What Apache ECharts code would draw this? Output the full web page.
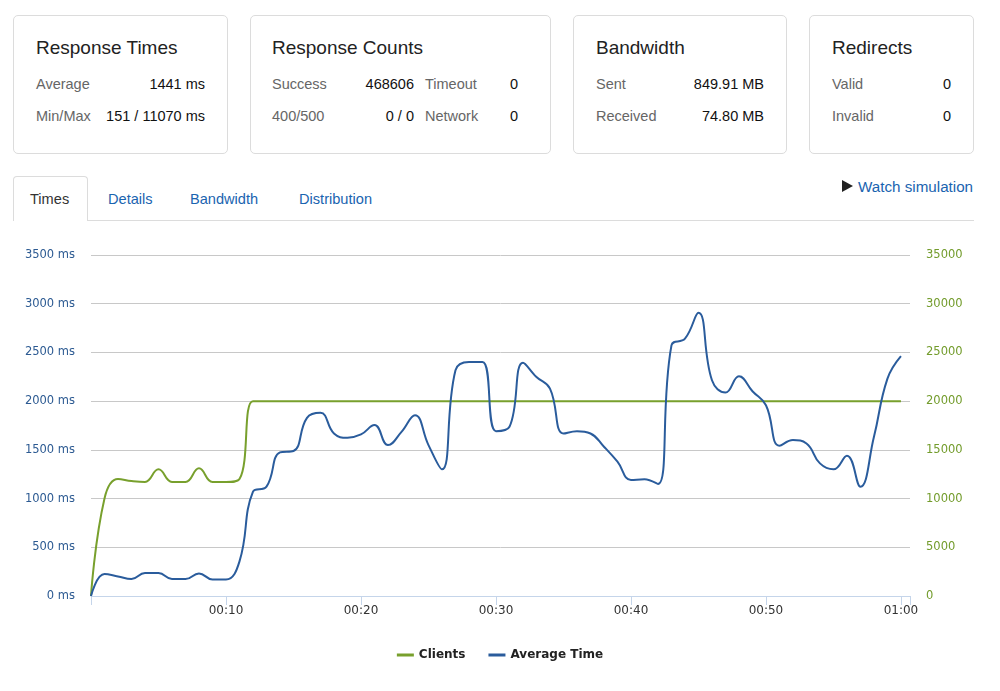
<!DOCTYPE html>
<html>
<head>
<meta charset="utf-8">
<script src="https://cdn.jsdelivr.net/npm/echarts@6/dist/echarts.min.js"></script>
<style>
  html,body{margin:0;padding:0;background:#fff;width:1000px;height:691px;overflow:hidden;font-family:"Liberation Sans",Arial,Helvetica,sans-serif;}
  .card{position:absolute;top:15px;height:139px;border:1px solid #dcdcdc;border-radius:5px;box-sizing:border-box;background:#fff;}
  .t{position:absolute;font-size:19px;color:#222;line-height:24px;white-space:nowrap;}
  .l{position:absolute;font-size:14.5px;color:#666;line-height:20px;white-space:nowrap;}
  .v{position:absolute;font-size:14.5px;color:#111;line-height:20px;white-space:nowrap;text-align:right;}
  .tab{position:absolute;top:177px;height:44px;line-height:44px;font-size:14.6px;color:#1a64b0;white-space:nowrap;}
  #chart{position:absolute;left:0;top:230px;width:1000px;height:461px;}
</style>
</head>
<body>
<div class="card" style="left:13px;width:215px;"></div>
<div class="card" style="left:250px;width:301px;"></div>
<div class="card" style="left:573px;width:214px;"></div>
<div class="card" style="left:809px;width:165px;"></div>

<div class="t" style="left:36px;top:36px;">Response Times</div>
<div class="l" style="left:36px;top:74px;">Average</div>
<div class="v" style="right:795px;top:74px;">1441 ms</div>
<div class="l" style="left:36px;top:106px;">Min/Max</div>
<div class="v" style="right:795px;top:106px;">151 / 11070 ms</div>

<div class="t" style="left:272px;top:36px;">Response Counts</div>
<div class="l" style="left:272px;top:74px;">Success</div>
<div class="v" style="right:586px;top:74px;">468606</div>
<div class="l" style="left:425px;top:74px;">Timeout</div>
<div class="v" style="right:482px;top:74px;">0</div>
<div class="l" style="left:272px;top:106px;">400/500</div>
<div class="v" style="right:586px;top:106px;">0 / 0</div>
<div class="l" style="left:425px;top:106px;">Network</div>
<div class="v" style="right:482px;top:106px;">0</div>

<div class="t" style="left:596px;top:36px;">Bandwidth</div>
<div class="l" style="left:596px;top:74px;">Sent</div>
<div class="v" style="right:236px;top:74px;">849.91 MB</div>
<div class="l" style="left:596px;top:106px;">Received</div>
<div class="v" style="right:236px;top:106px;">74.80 MB</div>

<div class="t" style="left:832px;top:36px;">Redirects</div>
<div class="l" style="left:832px;top:74px;">Valid</div>
<div class="v" style="right:49px;top:74px;">0</div>
<div class="l" style="left:832px;top:106px;">Invalid</div>
<div class="v" style="right:49px;top:106px;">0</div>

<div style="position:absolute;left:13px;top:220px;width:961px;height:1px;background:#dcdcdc;"></div>
<div style="position:absolute;left:13px;top:176px;width:75px;height:45px;border:1px solid #dcdcdc;border-bottom:none;border-radius:4px 4px 0 0;box-sizing:border-box;background:#fff;"></div>
<div class="tab" style="left:30px;color:#333;">Times</div>
<div class="tab" style="left:108px;">Details</div>
<div class="tab" style="left:190px;">Bandwidth</div>
<div class="tab" style="left:299px;">Distribution</div>
<div style="position:absolute;left:842px;top:180px;width:0;height:0;border-top:6.5px solid transparent;border-bottom:6.5px solid transparent;border-left:11px solid #222;"></div>
<div style="position:absolute;left:858px;top:176px;line-height:22px;font-size:15.2px;color:#1a64b0;white-space:nowrap;">Watch simulation</div>

<div id="chart"></div>
<script>
// seconds since start
var seconds = [0,1,2,3,4,5,6,7,8,9,10,11,12,13,14,15,16,17,18,19,20,21,22,23,24,25,26,27,28,29,30,31,32,33,34,35,36,37,38,39,40,41,42,43,44,45,46,47,48,49,50,51,52,53,54,55,56,57,58,59,60];
// active clients
var clients = [0,10000,12000,11800,11700,13000,11700,11700,13100,11700,11700,12000,20000,20000,20000,20000,20000,20000,20000,20000,20000,20000,20000,20000,20000,20000,20000,20000,20000,20000,20000,20000,20000,20000,20000,20000,20000,20000,20000,20000,20000,20000,20000,20000,20000,20000,20000,20000,20000,20000,20000,20000,20000,20000,20000,20000,20000,20000,20000,20000,20000];
// average response time (ms)
var avgTime = [0,225,201,174,235,235,174,174,232,170,170,355,1071,1122,1474,1488,1829,1880,1668,1624,1658,1754,1549,1685,1856,1549,1300,2317,2402,2402,1692,1737,2395,2248,2129,1668,1692,1668,1532,1378,1191,1198,1150,2572,2641,2907,2214,2088,2255,2102,1958,1542,1600,1566,1361,1300,1440,1122,1634,2231,2463];
var xTickLabels = ['', '00:10', '00:20', '00:30', '00:40', '00:50', '01:00'];
var seriesNames = ['Clients', 'Average Time'];

function pairs(xs, ys){ return xs.map(function(x,i){ return [x, ys[i]]; }); }

var chart = echarts.init(document.getElementById('chart'));
var font = 'DejaVu Sans, Verdana, sans-serif';
chart.setOption({
  animation: false,
  textStyle: {fontFamily: font},
  grid: {left: 91, right: 90, top: 25, bottom: 95, containLabel: false},
  legend: {
    data: seriesNames,
    bottom: 25,
    left: 'center',
    itemWidth: 17, itemHeight: 3, itemGap: 23,
    icon: 'rect',
    textStyle: {fontFamily: font, fontSize: 12, fontWeight: 'bold', color: '#222'}
  },
  xAxis: {
    type: 'value', min: 0, max: 60.67, interval: 10,
    axisLine: {show: true, lineStyle: {color: '#c5d5ea', width: 1}},
    axisTick: {show: true, length: 9, lineStyle: {color: '#c5d5ea'}},
    splitLine: {show: false},
    axisLabel: {
      margin: 9, fontSize: 12, color: '#333', fontFamily: font,
      formatter: function(v){ var k = Math.round(v/10); return (Math.abs(v - k*10) < 0.01) ? (xTickLabels[k] || '') : ''; }
    }
  },
  yAxis: [
    {
      type: 'value', min: 0, max: 3500, interval: 500,
      axisLine: {show: false}, axisTick: {show: false},
      splitLine: {lineStyle: {color: '#c8c8c8', width: 1}},
      axisLabel: {margin: 16, fontSize: 11.5, color: '#2c5a92', fontFamily: font, formatter: function(v){ return String(v) + ' ms'; }}
    },
    {
      type: 'value', min: 0, max: 35000, interval: 5000,
      axisLine: {show: false}, axisTick: {show: false},
      splitLine: {show: false},
      axisLabel: {margin: 16, fontSize: 11.5, color: '#739c2c', fontFamily: font, formatter: function(v){ return String(v); }}
    }
  ],
  series: [
    {
      name: seriesNames[0], type: 'line', yAxisIndex: 1,
      data: pairs(seconds, clients),
      smooth: 0.45, showSymbol: false, symbol: 'none',
      lineStyle: {color: '#78a02d', width: 2},
      itemStyle: {color: '#78a02d'}
    },
    {
      name: seriesNames[1], type: 'line', yAxisIndex: 0,
      data: pairs(seconds, avgTime),
      smooth: 0.45, showSymbol: false, symbol: 'none',
      lineStyle: {color: '#2a5c9c', width: 2},
      itemStyle: {color: '#2a5c9c'}
    }
  ]
});
</script>
</body>
</html>
